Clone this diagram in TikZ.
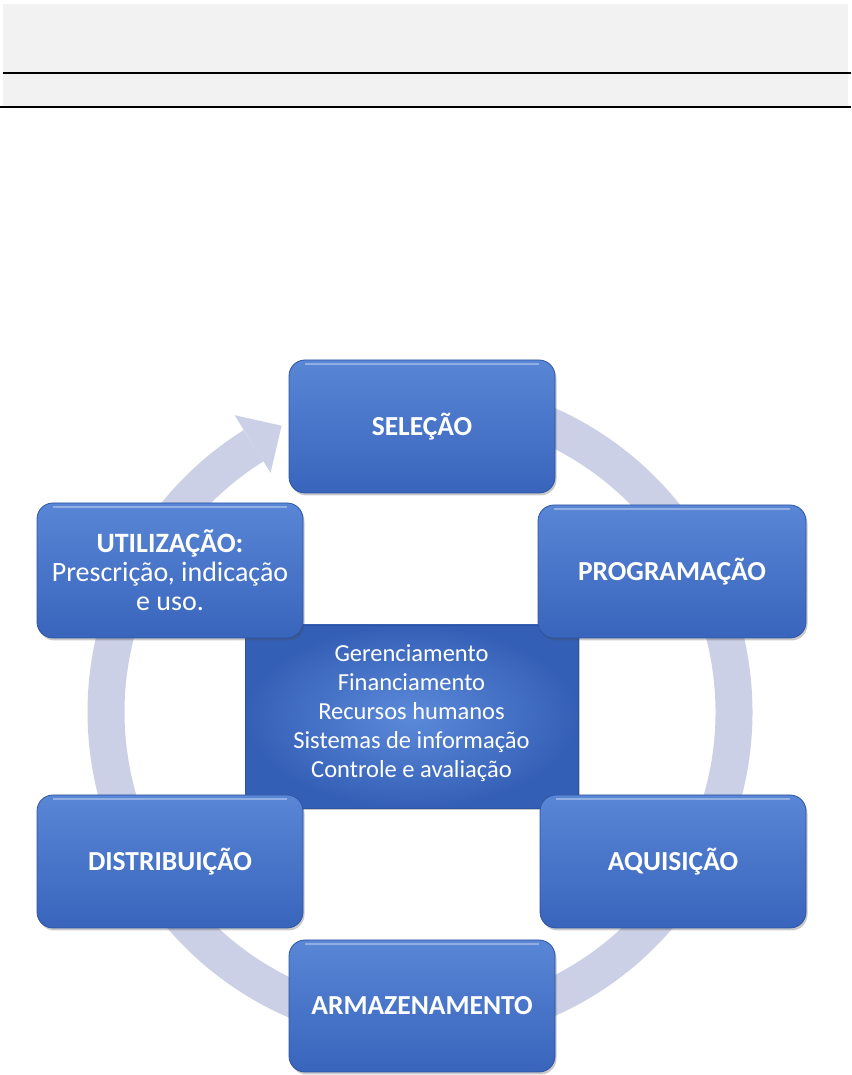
\documentclass[tikz,border=0pt]{standalone}
\usepackage{fontspec}
\setmainfont{Carlito}
\usetikzlibrary{shadows,calc}
\definecolor{ringc}{RGB}{203,208,230}
\definecolor{boxtop}{RGB}{90,134,214}
\definecolor{boxbot}{RGB}{56,100,188}
\definecolor{boxedge}{RGB}{44,84,164}
\definecolor{cinner}{RGB}{92,138,218}
\definecolor{couter}{RGB}{52,95,182}
\definecolor{bandgrey}{RGB}{242,242,242}
\tikzset{
  stagebox/.style={rounded corners=16pt, minimum width=266pt, minimum height=133pt,
    top color=boxtop, bottom color=boxbot, draw=boxedge, line width=0.8pt,
    text=white, font=\fontsize{27.5}{29}\selectfont\bfseries, align=center, inner sep=4pt,
    drop shadow={shadow xshift=1.5pt, shadow yshift=-2.5pt, opacity=0.3, fill=black!70},
    path picture={\draw[white, opacity=0.35, line width=2pt]
      ([xshift=16pt,yshift=-4pt]path picture bounding box.north west) --
      ([xshift=-16pt,yshift=-4pt]path picture bounding box.north east);}},
  centerbox/.style={minimum width=333pt, minimum height=183pt,
    inner color=cinner, outer color=couter, draw=boxedge, line width=0.8pt,
    text=white, font=\fontsize{24.5}{29}\selectfont, align=center, inner sep=4pt,
    drop shadow={shadow xshift=1.5pt, shadow yshift=-2.5pt, opacity=0.3, fill=black!70}},
  ringpart/.style={ringc},
  ruleline/.style={line width=1.3pt, black}
}
\begin{document}
\begin{tikzpicture}[x=1pt,y=1pt]
\useasboundingbox (0,0) rectangle (851,1075);
% top band
\fill[bandgrey] (3,968) rectangle (848,1071);
\draw[ruleline] (3,1002) -- (851,1002);
\draw[ruleline] (0,968) -- (851,968);
% circular arrow
\coordinate (C) at (420,363);
\draw[ringpart, line width=37pt] ($(C)+(95:314)$) arc[start angle=95, end angle=-238, radius=314];
\fill[ringpart] ($(C)+(122:282)$) -- ($(C)+(122:350)$) -- ($(C)+(115.8:318)$) -- cycle;
% central box
\node[centerbox] (center) at (411.5,358.5) {Gerenciamento\\Financiamento\\Recursos humanos\\Sistemas de informação\\Controle e avaliação\\[-19pt]};
% stage boxes
\node[stagebox] (sel) at (422,648.5) {SELEÇÃO};
\node[stagebox, minimum width=268pt] (prog) at (672,503.5) {PROGRAMAÇÃO};
\node[stagebox, minimum height=135pt, font=\fontsize{28}{29}\selectfont\bfseries] (util) at (170,504.5) {UTILIZAÇÃO:\\\mdseries Prescrição, indicação\\\mdseries e uso.};
\node[stagebox] (dist) at (170,213.5) {DISTRIBUIÇÃO};
\node[stagebox] (aqui) at (673,213.5) {AQUISIÇÃO};
\node[stagebox, minimum height=132pt] (arma) at (422,69) {ARMAZENAMENTO};
\end{tikzpicture}
\end{document}
